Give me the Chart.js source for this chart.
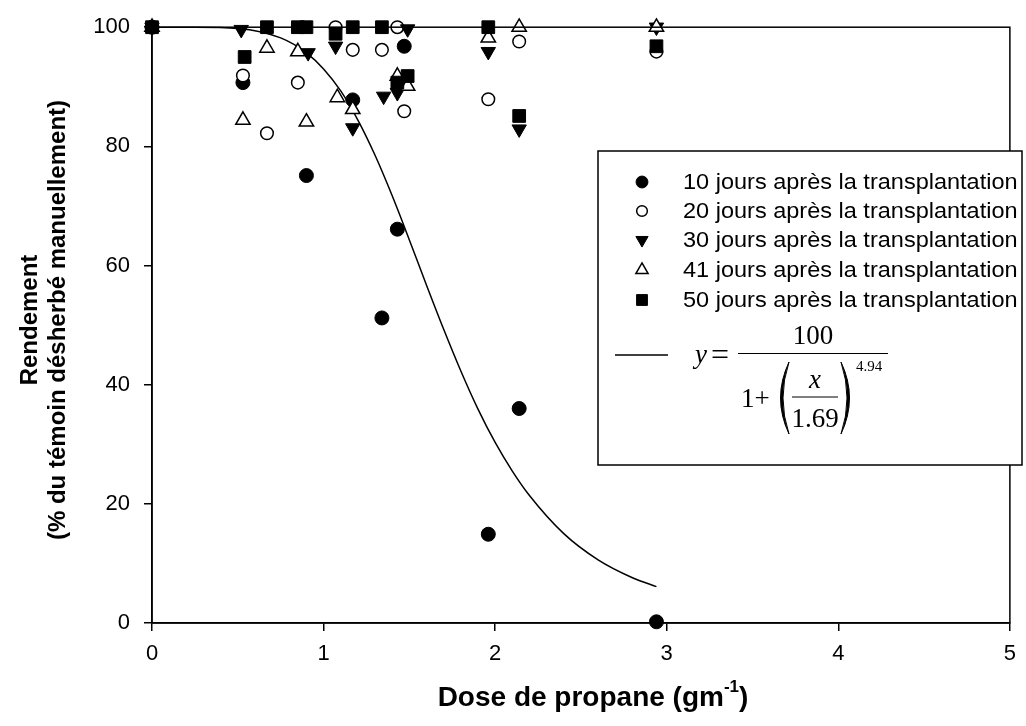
<!DOCTYPE html>
<html>
<head>
<meta charset="utf-8">
<script src="https://cdn.jsdelivr.net/npm/chart.js@4.4.0/dist/chart.umd.min.js"></script>
<style>
    html, body { margin: 0; padding: 0; background: #fff; }
</style>
</head>
<body>
<canvas id="chart" width="1026" height="726"></canvas>
<script>
// Series: dose (g m-1) and yield (% of hand-weeded control)
const dose10 = [0, 0.53, 0.90, 1.17, 1.34, 1.43, 1.47, 1.96, 2.14, 2.94];
const yield10 = [100, 90.7, 75.1, 87.8, 51.2, 66.1, 96.8, 14.9, 36.0, 0.2];

const dose20 = [0, 0.53, 0.67, 0.85, 1.07, 1.17, 1.34, 1.43, 1.47, 1.96, 2.14, 2.94];
const yield20 = [100, 91.9, 82.2, 90.7, 100, 96.2, 96.2, 100, 85.9, 87.9, 97.6, 95.9];

const dose30 = [0, 0.52, 0.91, 1.07, 1.17, 1.35, 1.43, 1.49, 1.96, 2.14, 2.94];
const yield30 = [100, 99.6, 95.7, 96.8, 83.1, 88.4, 89.0, 99.7, 95.9, 82.9, 100];

const dose41 = [0, 0.53, 0.67, 0.85, 0.90, 1.08, 1.17, 1.43, 1.49, 1.96, 2.14, 2.94];
const yield41 = [100, 84.4, 96.5, 95.9, 84.1, 88.2, 86.2, 91.8, 90.1, 98.2, 100, 100];

const dose50 = [0, 0.54, 0.67, 0.85, 0.90, 1.07, 1.17, 1.34, 1.43, 1.49, 1.96, 2.14, 2.94];
const yield50 = [100, 95.0, 100, 100, 100, 98.9, 100, 100, 90.7, 91.8, 100, 85.1, 96.8];

// fitted curve
const fitX = [0, 0.25, 0.5, 0.75, 0.9, 1.0, 1.1, 1.2, 1.3, 1.4, 1.5, 1.6, 1.7, 1.8, 1.9, 2.0, 2.1, 2.2, 2.4, 2.6, 2.8, 2.94];
const fitY = [100, 100, 99.8, 98.2, 95.7, 93.0, 89.3, 84.4, 78.5, 71.7, 64.3, 56.7, 49.3, 42.3, 35.9, 30.3, 25.5, 21.4, 15.0, 10.6, 7.6, 6.1];

const seriesLabels = [
    '10 jours après la transplantation',
    '20 jours après la transplantation',
    '30 jours après la transplantation',
    '41 jours après la transplantation',
    '50 jours après la transplantation'
];
const xTitle = 'Dose de propane (gm';
const yTitle1 = 'Rendement';
const yTitle2 = '(% du témoin désherbé manuellement)';

const toPoints = (xs, ys) => xs.map((x, i) => ({ x: x, y: ys[i] }));

const SANS = '"Liberation Sans", Arial, sans-serif';
const SERIF = '"Liberation Serif", "Times New Roman", serif';

const markerStyles = [
    { pointStyle: 'circle', radius: 7, rotation: 0, bg: '#000', borderWidth: 1 },
    { pointStyle: 'circle', radius: 6.3, rotation: 0, bg: '#fff', borderWidth: 1.5 },
    { pointStyle: 'triangle', radius: 8.3, rotation: 180, bg: '#000', borderWidth: 1 },
    { pointStyle: 'triangle', radius: 8.3, rotation: 0, bg: '#fff', borderWidth: 1.5 },
    { pointStyle: 'rect', radius: 9, rotation: 0, bg: '#000', borderWidth: 1 }
];

const seriesData = [
    toPoints(dose10, yield10),
    toPoints(dose20, yield20),
    toPoints(dose30, yield30),
    toPoints(dose41, yield41),
    toPoints(dose50, yield50)
];

const datasets = seriesData.map((pts, i) => ({
    label: seriesLabels[i],
    data: pts,
    showLine: false,
    pointStyle: markerStyles[i].pointStyle,
    pointRadius: markerStyles[i].radius,
    pointRotation: markerStyles[i].rotation,
    pointBackgroundColor: markerStyles[i].bg,
    pointBorderColor: '#000',
    pointBorderWidth: markerStyles[i].borderWidth,
    clip: false,
    order: 5 - i
}));

datasets.push({
    label: 'fit',
    data: toPoints(fitX, fitY),
    showLine: true,
    borderColor: '#000',
    borderWidth: 1.5,
    pointRadius: 0,
    cubicInterpolationMode: 'monotone',
    clip: false,
    order: 6
});

// frame, axis titles, legend box with equation
const extras = {
    id: 'extras',
    afterDatasetsDraw(chart) {
        const ctx = chart.ctx;
        const a = chart.chartArea;
        ctx.save();
        ctx.strokeStyle = '#000';
        ctx.lineWidth = 1.5;
        ctx.strokeRect(a.left, a.top, a.right - a.left, a.bottom - a.top);
        ctx.restore();
    },
    afterDraw(chart) {
        const ctx = chart.ctx;
        ctx.save();
        ctx.fillStyle = '#000';
        ctx.strokeStyle = '#000';

        // x title with superscript
        const big = 'bold 28px ' + SANS;
        const sup = 'bold 17px ' + SANS;
        ctx.font = big;
        ctx.textBaseline = 'alphabetic';
        ctx.textAlign = 'left';
        const w1 = ctx.measureText(xTitle).width;
        ctx.font = sup;
        const w2 = ctx.measureText('-1').width;
        ctx.font = big;
        const w3 = ctx.measureText(')').width;
        let sx = 593 - (w1 + w2 + w3) / 2;
        const by = 706;
        ctx.fillText(xTitle, sx, by);
        ctx.font = sup;
        ctx.fillText('-1', sx + w1, by - 14);
        ctx.font = big;
        ctx.fillText(')', sx + w1 + w2, by);

        // y title, two lines
        ctx.save();
        ctx.translate(30, 320);
        ctx.rotate(-Math.PI / 2);
        ctx.font = 'bold 24px ' + SANS;
        ctx.textAlign = 'center';
        ctx.textBaseline = 'middle';
        ctx.fillText(yTitle1, 0, 0);
        ctx.fillText(yTitle2, 0, 28);
        ctx.restore();

        // legend box
        ctx.lineWidth = 1.5;
        ctx.fillStyle = '#fff';
        ctx.fillRect(598, 151, 424, 314);
        ctx.strokeRect(598, 151, 424, 314);

        const rowY = [182, 211, 240, 270, 300];
        ctx.textAlign = 'left';
        ctx.textBaseline = 'middle';
        markerStyles.forEach((m, i) => {
            ctx.fillStyle = m.bg;
            ctx.strokeStyle = '#000';
            ctx.lineWidth = m.borderWidth;
            Chart.helpers.drawPoint(ctx, {
                pointStyle: m.pointStyle,
                radius: m.radius * 0.85,
                rotation: m.rotation,
                borderWidth: m.borderWidth
            }, 642, rowY[i]);
            ctx.fillStyle = '#000';
            ctx.save();
            ctx.translate(683, rowY[i] + 1);
            ctx.scale(1.045, 1);
            ctx.font = '22.5px ' + SANS;
            ctx.fillText(seriesLabels[i], 0, 0);
            ctx.restore();
        });

        // curve sample and equation
        ctx.strokeStyle = '#000';
        ctx.lineWidth = 1.5;
        ctx.beginPath();
        ctx.moveTo(615, 355);
        ctx.lineTo(668, 355);
        ctx.stroke();

        ctx.fillStyle = '#000';
        ctx.textBaseline = 'alphabetic';
        ctx.textAlign = 'left';
        ctx.font = 'italic 27px ' + SERIF;
        ctx.fillText('y', 695, 363);
        ctx.font = '32px ' + SERIF;
        ctx.fillText('=', 711, 365);
        ctx.lineWidth = 1.2;
        ctx.beginPath();
        ctx.moveTo(738, 353.5);
        ctx.lineTo(888, 353.5);
        ctx.stroke();
        ctx.font = '27px ' + SERIF;
        ctx.textAlign = 'center';
        ctx.fillText('100', 813, 344);
        ctx.textAlign = 'left';
        ctx.fillText('1+', 741, 407);

        // big brackets
        const paren = (x0, dir) => {
            ctx.beginPath();
            ctx.moveTo(x0, 362);
            ctx.quadraticCurveTo(x0 - dir * 17, 398, x0, 434);
            ctx.quadraticCurveTo(x0 - dir * 12, 398, x0, 362);
            ctx.fill();
            ctx.lineWidth = 1;
            ctx.stroke();
        };
        paren(789, 1);
        paren(841, -1);

        ctx.font = 'italic 27px ' + SERIF;
        ctx.textAlign = 'center';
        ctx.fillText('x', 815, 388);
        ctx.lineWidth = 1.2;
        ctx.beginPath();
        ctx.moveTo(792, 397);
        ctx.lineTo(838, 397);
        ctx.stroke();
        ctx.font = '27px ' + SERIF;
        ctx.fillText('1.69', 815, 427);
        ctx.font = '15px ' + SERIF;
        ctx.textAlign = 'left';
        ctx.fillText('4.94', 856, 371);

        ctx.restore();
    }
};

const tickFont = { family: SANS, size: 22 };

new Chart(document.getElementById('chart'), {
    type: 'scatter',
    data: { datasets: datasets },
    options: {
        responsive: false,
        animation: false,
        layout: { padding: { top: 24, right: 16, left: 0, bottom: 0 } },
        plugins: {
            legend: { display: false },
            tooltip: { enabled: false }
        },
        scales: {
            x: {
                type: 'linear',
                min: 0,
                max: 5,
                ticks: { stepSize: 1, color: '#000', font: tickFont, padding: 10 },
                grid: { drawOnChartArea: false, drawTicks: true, tickLength: 8, color: '#000', lineWidth: 1.5 },
                border: { color: '#000', width: 1.5 },
                afterFit: s => { s.height = 103; }
            },
            y: {
                min: 0,
                max: 100,
                ticks: { stepSize: 20, color: '#000', font: tickFont, padding: 14 },
                grid: { drawOnChartArea: false, drawTicks: true, tickLength: 8, color: '#000', lineWidth: 1.5 },
                border: { color: '#000', width: 1.5 },
                afterFit: s => { s.width = 152; }
            }
        }
    },
    plugins: [extras]
});
</script>
</body>
</html>
